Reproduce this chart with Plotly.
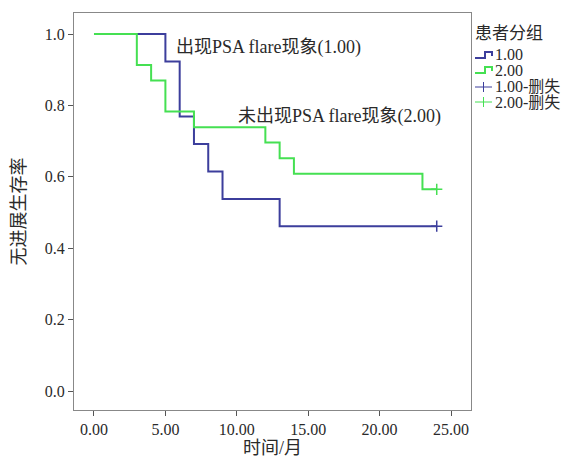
import plotly.graph_objects as go

# Kaplan-Meier data
g1_times = [0, 5, 6, 7, 8, 9, 13, 24]
g1_surv = [1.0, 0.923, 0.769, 0.692, 0.615, 0.538, 0.462, 0.462]
g2_times = [0, 3, 4, 5, 7, 12, 13, 14, 23, 24]
g2_surv = [1.0, 0.913, 0.870, 0.783, 0.739, 0.696, 0.652, 0.609, 0.565, 0.565]
g1_cens_t = [24]
g1_cens_s = [0.462]
g2_cens_t = [24]
g2_cens_s = [0.565]

x_ticks = [0, 5, 10, 15, 20, 25]
x_ticklabels = ["0.00", "5.00", "10.00", "15.00", "20.00", "25.00"]
y_ticks = [0, 0.2, 0.4, 0.6, 0.8, 1.0]
y_ticklabels = ["0.0", "0.2", "0.4", "0.6", "0.8", "1.0"]

legend_title = "患者分组"
legend_labels = ["1.00", "2.00", "1.00-删失", "2.00-删失"]

BLUE = "#3c3e9c"
GREEN = "#45e052"
FONT = "Liberation Serif, Noto Sans CJK SC, serif"
TXT = "#2a2a2a"

# page body has an 8px default margin; work in window pixels and offset
OFF = 8
W, H = 569 - OFF, 458 - OFF
PL, PR, PT, PB = 74, 471, 13, 410  # plot frame in window pixels
L, R, T, B = PL - OFF, W - (PR - OFF), PT - OFF, H - (PB - OFF)
pw, ph = PR - PL, PB - PT

def px(x):
    return (x - PL) / pw

def py(y):
    return (PB - y) / ph

fig = go.Figure()
fig.add_trace(go.Scatter(x=g1_times, y=g1_surv, mode="lines", line=dict(color=BLUE, width=2, shape="hv"), showlegend=False))
fig.add_trace(go.Scatter(x=g2_times, y=g2_surv, mode="lines", line=dict(color=GREEN, width=2, shape="hv"), showlegend=False))
fig.add_trace(go.Scatter(x=g1_cens_t, y=g1_cens_s, mode="markers",
                         marker=dict(symbol="cross-thin", size=8, line=dict(color=BLUE, width=1.5)), showlegend=False))
fig.add_trace(go.Scatter(x=g2_cens_t, y=g2_cens_s, mode="markers",
                         marker=dict(symbol="cross-thin", size=8, line=dict(color=GREEN, width=1.5)), showlegend=False))

fig.add_annotation(x=px(175), y=py(48), xref="paper", yref="paper", text="出现PSA flare现象(1.00)", showarrow=False,
                   xanchor="left", yanchor="middle", borderpad=0, font=dict(family=FONT, size=18, color=TXT))
fig.add_annotation(x=px(237), y=py(116), xref="paper", yref="paper", text="未出现PSA flare现象(2.00)", showarrow=False,
                   xanchor="left", yanchor="middle", borderpad=0, font=dict(family=FONT, size=18, color=TXT))

# manual legend
shapes = []
annos = []
annos.append(dict(x=px(474), y=py(33), xref="paper", yref="paper", text=legend_title, showarrow=False,
                  xanchor="left", yanchor="middle", borderpad=0, font=dict(family=FONT, size=17, color=TXT)))
rows = [55, 70, 87, 102]
colors = [BLUE, GREEN, BLUE, GREEN]
for i, (lab, yy, c) in enumerate(zip(legend_labels, rows, colors)):
    if i < 2:
        path = (f"M {px(475)} {py(yy+3)} L {px(485)} {py(yy+3)} L {px(485)} {py(yy-3)} "
                f"L {px(492)} {py(yy-3)} L {px(492)} {py(yy+1)}")
        shapes.append(dict(type="path", path=path, xref="paper", yref="paper", line=dict(color=c, width=2)))
    else:
        shapes.append(dict(type="line", x0=px(475), x1=px(492), y0=py(yy), y1=py(yy), xref="paper", yref="paper",
                           line=dict(color=c, width=1)))
        shapes.append(dict(type="line", x0=px(483.5), x1=px(483.5), y0=py(yy - 5), y1=py(yy + 5), xref="paper", yref="paper",
                           line=dict(color=c, width=1)))
    annos.append(dict(x=px(494), y=py(yy), xref="paper", yref="paper", text=lab, showarrow=False,
                      xanchor="left", yanchor="middle", borderpad=0, font=dict(family=FONT, size=16, color=TXT)))
for a in annos:
    fig.add_annotation(**a)

fig.update_layout(
    width=W, height=H, margin=dict(l=L, r=R, t=T, b=B, autoexpand=False),
    plot_bgcolor="white", paper_bgcolor="white", shapes=shapes,
    font=dict(family=FONT, size=16, color=TXT),
)
fig.update_xaxes(range=[-1.4, 26.4], tickvals=x_ticks, ticktext=x_ticklabels, showgrid=False, zeroline=False,
                 showline=True, linecolor="#888", linewidth=1, mirror=True, ticks="outside", ticklen=5,
                 tickcolor="#555", automargin=False, title=dict(text="时间/月", font=dict(size=18), standoff=2))
fig.update_yaxes(range=[-0.053, 1.059], tickvals=y_ticks, ticktext=y_ticklabels, showgrid=False, zeroline=False,
                 showline=True, linecolor="#888", linewidth=1, mirror=True, ticks="outside", ticklen=5,
                 tickcolor="#555", automargin=False, title=dict(text="无进展生存率", font=dict(size=18), standoff=14))

fig.write_html("out.html")
